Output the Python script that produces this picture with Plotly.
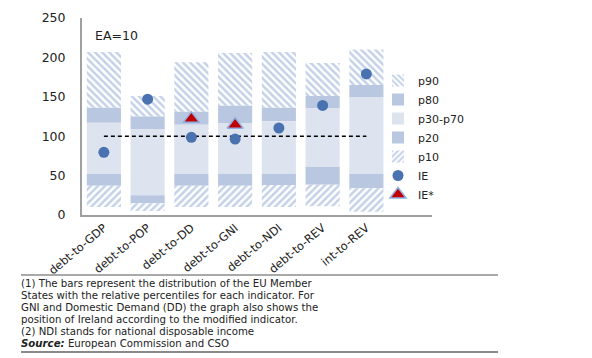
import plotly.graph_objects as go

# ---------------- data ----------------
categories = ["debt-to-GDP", "debt-to-POP", "debt-to-DD", "debt-to-GNI",
              "debt-to-NDI", "debt-to-REV", "int-to-REV"]
p_min = [10, 5, 10, 10, 10, 11, 4]
p10 = [37, 15, 37, 37, 38, 38.5, 34]
p20 = [52, 25, 52, 52.5, 52.5, 61, 52.4]
p70 = [117, 109, 114.6, 116.8, 119, 135, 149]
p80 = [136, 125, 131, 138.7, 136, 151, 165]
p90 = [207, 151, 194, 205.6, 207, 193, 210]
ie = [79.5, 147, 98.6, 96.4, 110.4, 139, 179]
ie_star = [None, None, 122, 114.6, None, None, None]
ref_level = [100] * len(categories)
y_ticks = [0, 50, 100, 150, 200, 250]

footnotes = [
    "(1) The bars represent the distribution of the EU Member",
    "States with the relative percentiles for each indicator. For",
    "GNI and Domestic Demand (DD) the graph also shows the",
    "position of Ireland according to the modified indicator.",
    "(2) NDI stands for national disposable income",
    "<b><i>Source:</i></b> European Commission and CSO",
]

# ---------------- layout geometry ----------------
W, H = 592, 358
L, R, T, B = 74, 424, 10, 207
FONT = "DejaVu Sans"


def px(x):
    return (x - L) / (R - L)


def py(y):
    return (B - y) / (B - T)


HATCH = "#8AA4D2"
MED = "#B9C7E0"
LIGHT = "#DDE4F0"


def diff(a, b):
    return [u - v for u, v in zip(a, b)]


fig = go.Figure()

segments = [
    ("p90", p80, p90, dict(color="white", pattern=dict(shape="\\", fgcolor=HATCH, bgcolor="white", size=5, solidity=0.5))),
    ("p80", p70, p80, dict(color=MED)),
    ("p30-p70", p20, p70, dict(color=LIGHT)),
    ("p20", p10, p20, dict(color=MED)),
    ("p10", p_min, p10, dict(color="white", pattern=dict(shape="/", fgcolor=HATCH, bgcolor="white", size=5, solidity=0.5))),
]
for name, lo, hi, mk in segments:
    fig.add_trace(go.Bar(x=categories, y=diff(hi, lo), base=lo, name=name,
                         marker=dict(line=dict(width=0), **mk), width=0.78))

fig.add_trace(go.Scatter(x=categories, y=ref_level, mode="lines", showlegend=False,
                         line=dict(color="black", width=1.5, dash="4px,3px")))
fig.add_trace(go.Scatter(x=categories, y=ie, mode="markers", name="IE",
                         marker=dict(symbol="circle", size=11, color="#4A72B0")))
fig.add_trace(go.Scatter(x=categories, y=ie_star, mode="markers", name="IE*",
                         marker=dict(symbol="triangle-up", size=14, color="#C00000",
                                     line=dict(color="#8FB0E0", width=1.5))))

fig.update_layout(
    width=W, height=H,
    margin=dict(l=L, r=W - R, t=T, b=H - B, autoexpand=False),
    paper_bgcolor="white", plot_bgcolor="white",
    barmode="overlay", bargap=0.22,
    font=dict(family=FONT, size=12, color="#222"),
    showlegend=True,
    legend=dict(x=px(370), y=py(58), xanchor="left", yanchor="top",
                bgcolor="rgba(0,0,0,0)", font=dict(size=11, color="#222"),
                itemwidth=30, tracegroupgap=0),
)
fig.update_xaxes(range=[-0.5, 7.5], showline=True, linecolor="#A0A0A0", linewidth=1.5,
                 tickangle=-40, ticks="", tickfont=dict(size=11.5, color="#222"),
                 showgrid=False, zeroline=False)
fig.update_yaxes(range=[0, 250], tickvals=y_ticks, showline=True, linecolor="#A0A0A0",
                 linewidth=2, ticks="", showgrid=False, zeroline=False,
                 tickfont=dict(size=12.5, color="#222"), ticklabelstandoff=12)

fig.add_annotation(text="EA=10", xref="paper", yref="paper", x=px(85), y=py(27),
                   xanchor="left", yanchor="middle", showarrow=False,
                   font=dict(size=12.5, color="#222"))

line_ys = [275.7, 287.7, 299.7, 311.7, 323.7, 335.7]
for txt, ly in zip(footnotes, line_ys):
    fig.add_annotation(text=txt, xref="paper", yref="paper", x=px(12), y=py(ly),
                       xanchor="left", yanchor="middle", showarrow=False,
                       borderpad=0, font=dict(size=10.2, color="#222"))

fig.add_shape(type="line", xref="paper", yref="paper", x0=px(13), x1=px(490),
              y0=py(267), y1=py(267), line=dict(color="#555", width=1.2))
fig.add_shape(type="line", xref="paper", yref="paper", x0=px(13), x1=px(490),
              y0=py(344), y1=py(344), line=dict(color="#8A8A8A", width=2))

fig.write_html("out.html")
